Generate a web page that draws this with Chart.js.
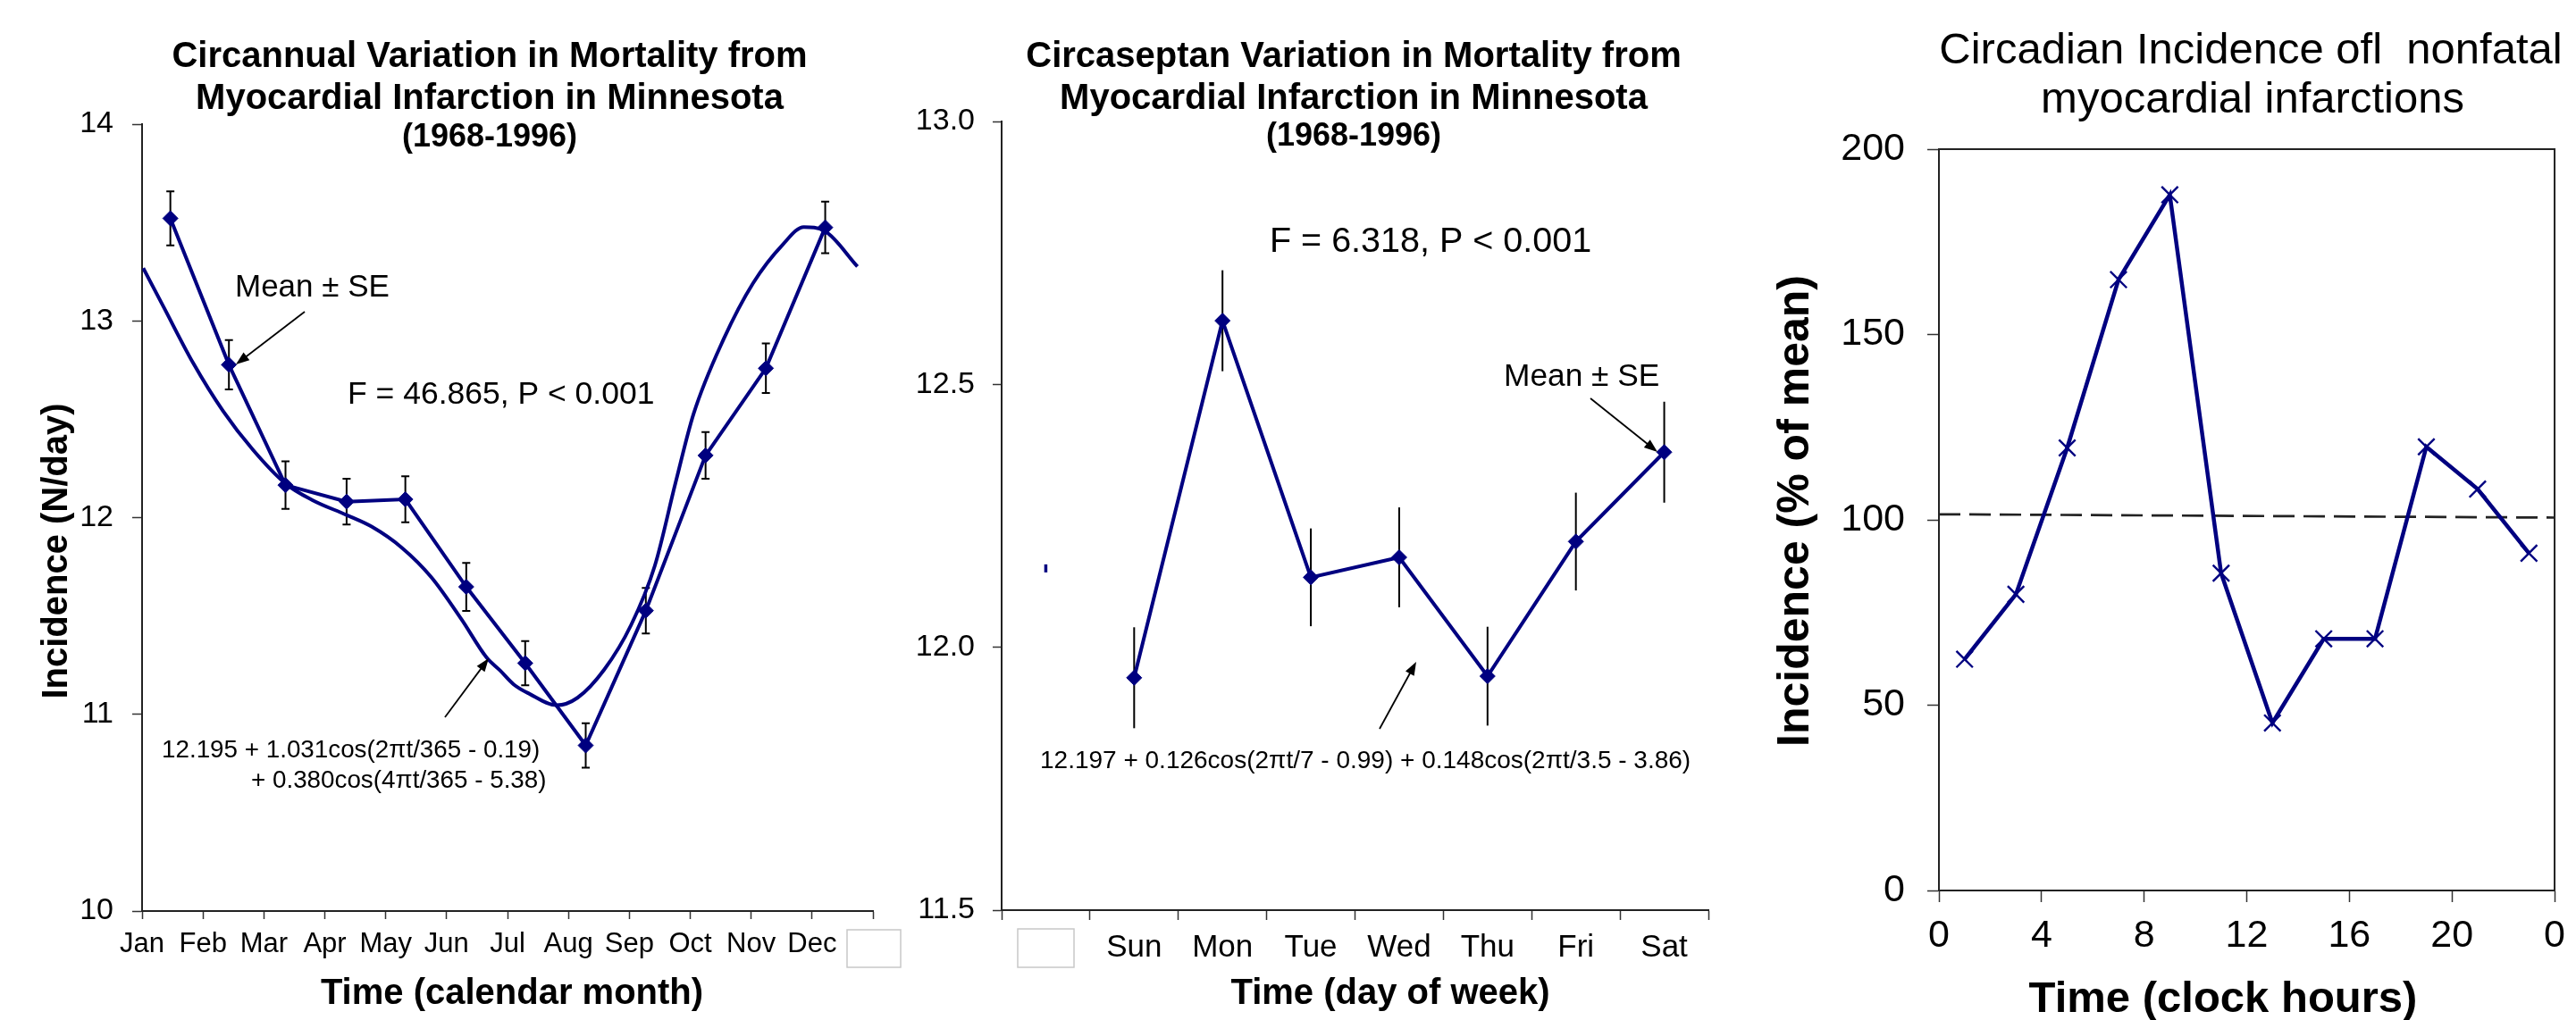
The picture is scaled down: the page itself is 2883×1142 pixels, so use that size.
<!DOCTYPE html>
<html><head><meta charset="utf-8">
<script src="https://cdn.jsdelivr.net/npm/chart.js@4.4.1/dist/chart.umd.min.js"></script>
<style>
html,body{margin:0;padding:0;background:#fff;}
#wrap{position:relative;width:2883px;height:1142px;overflow:hidden;background:#fff;}
.layer{position:absolute;left:0;top:0;width:2883px;height:1142px;}
</style></head><body>
<div id="wrap">
<div class="layer"><canvas id="c1"></canvas></div>
<div class="layer"><canvas id="c2"></canvas></div>
<div class="layer"><canvas id="c3"></canvas></div>
</div>
<script>
// ---------- DATA ----------
// Panel 1: circannual
const monthLabels = ['Jan','Feb','Mar','Apr','May','Jun','Jul','Aug','Sep','Oct','Nov','Dec'];
const monthDays  = [14.4, 44.2, 73.0, 104.1, 134.0, 165.0, 195.0, 225.8, 256.4, 286.8, 317.5, 347.7];
const monthMeans = [13.521, 12.777, 12.165, 12.081, 12.093, 11.648, 11.260, 10.842, 11.527, 12.316, 12.759, 13.475];
const monthSE    = [0.137, 0.125, 0.121, 0.116, 0.117, 0.122, 0.112, 0.113, 0.116, 0.119, 0.126, 0.131];
const fitDays = [0.6, 10.9, 26.1, 41.2, 56.3, 73.1, 86.7, 104.1, 117.0, 132.2, 147.3, 162.5, 175.4, 182.2, 189.4, 197.2, 211.0, 221.6, 235.2, 248.9, 261.0, 271.6, 280.7, 295.9, 311.0, 326.2, 336.8, 347.4, 364.1];
const fitVals = [13.268, 13.072, 12.784, 12.542, 12.346, 12.172, 12.089, 12.013, 11.953, 11.847, 11.696, 11.484, 11.288, 11.223, 11.150, 11.104, 11.046, 11.084, 11.227, 11.454, 11.756, 12.180, 12.527, 12.905, 13.192, 13.389, 13.477, 13.457, 13.276];

// Panel 2: circaseptan
const dayLabels = ['', 'Sun','Mon','Tue','Wed','Thu','Fri','Sat'];
const dayMeans  = [11.942, 12.621, 12.133, 12.171, 11.945, 12.201, 12.371];
const daySE     = [0.096, 0.096, 0.093, 0.095, 0.094, 0.093, 0.096];
const strayMark = [12.15];

// Panel 3: circadian
const hours    = [1, 3, 5, 7, 9, 11, 13, 15, 17, 19, 21, 23];
const hourVals = [62.4, 79.9, 119.4, 164.8, 187.7, 85.6, 45.2, 67.9, 67.9, 119.7, 108.3, 91.0];
const hourTickLabels = ['0','4','8','12','16','20','0'];
const meanLineHours = [0, 24];
const meanLineVals  = [101.5, 100.6];

// ---------- STYLE / LAYOUT ----------
const SANS = '"Liberation Sans", Arial, Helvetica, sans-serif';
const NAVY = '#000080';
const W = 2883, H = 1142;

function txt(ctx, s, x, y, size, weight, align) {
  ctx.save();
  ctx.font = (weight || 'normal') + ' ' + size + 'px ' + SANS;
  ctx.fillStyle = '#000';
  ctx.textAlign = align || 'left';
  ctx.textBaseline = 'alphabetic';
  ctx.fillText(s, x, y);
  ctx.restore();
}
function vtxt(ctx, s, x, y, size, weight) {
  ctx.save();
  ctx.translate(x, y);
  ctx.rotate(-Math.PI / 2);
  ctx.font = (weight || 'normal') + ' ' + size + 'px ' + SANS;
  ctx.fillStyle = '#000';
  ctx.textAlign = 'center';
  ctx.textBaseline = 'alphabetic';
  ctx.fillText(s, 0, 0);
  ctx.restore();
}
function arrow(ctx, x1, y1, x2, y2) {
  const a = Math.atan2(y2 - y1, x2 - x1), L = 15, Wd = 5.5;
  ctx.save();
  ctx.strokeStyle = '#000'; ctx.fillStyle = '#000'; ctx.lineWidth = 1.8;
  ctx.beginPath(); ctx.moveTo(x1, y1);
  ctx.lineTo(x2 - L * 0.8 * Math.cos(a), y2 - L * 0.8 * Math.sin(a)); ctx.stroke();
  ctx.beginPath(); ctx.moveTo(x2, y2);
  ctx.lineTo(x2 - L * Math.cos(a) + Wd * Math.sin(a), y2 - L * Math.sin(a) - Wd * Math.cos(a));
  ctx.lineTo(x2 - L * Math.cos(a) - Wd * Math.sin(a), y2 - L * Math.sin(a) + Wd * Math.cos(a));
  ctx.closePath(); ctx.fill();
  ctx.restore();
}
function box(ctx, x, y, w, h) {
  ctx.save(); ctx.strokeStyle = '#c8c8c8'; ctx.lineWidth = 1.5;
  ctx.strokeRect(x, y, w, h); ctx.restore();
}
function errorBars(chart, dsIndex, means, se, cap, offsetIdx) {
  const ctx = chart.ctx, ys = chart.scales.y, meta = chart.getDatasetMeta(dsIndex);
  ctx.save(); ctx.strokeStyle = '#000'; ctx.lineWidth = 2;
  means.forEach((m, i) => {
    const el = meta.data[i + offsetIdx];
    if (!el) return;
    const x = el.x, y1 = ys.getPixelForValue(m + se[i]), y2 = ys.getPixelForValue(m - se[i]);
    ctx.beginPath(); ctx.moveTo(x, y1); ctx.lineTo(x, y2);
    if (cap) { ctx.moveTo(x - cap, y1); ctx.lineTo(x + cap, y1); ctx.moveTo(x - cap, y2); ctx.lineTo(x + cap, y2); }
    ctx.stroke();
  });
  ctx.restore();
}

const base = {
  animation: false, responsive: true, maintainAspectRatio: false, events: [],
  plugins: { legend: { display: false }, tooltip: { enabled: false }, title: { display: false } }
};
function axisCommon(size, tickLen, pad) {
  return {
    ticks: { color: '#000', font: { family: SANS, size: size }, padding: pad, autoSkip: false, maxRotation: 0 },
    grid: { drawOnChartArea: false, drawTicks: true, tickLength: tickLen, tickColor: '#333', tickWidth: 1.5 },
    border: { display: true, color: '#222', width: 2 }
  };
}

// ---------- PANEL 1 ----------
const x1 = axisCommon(31, 9, 10);
Object.assign(x1, { type: 'linear', min: 0, max: 372, afterFit: s => { s.height = 100; } });
x1.ticks.stepSize = 31;
x1.ticks.callback = v => monthLabels[Math.round(v / 31)] || '';
const y1 = axisCommon(34, 11, 21);
Object.assign(y1, { min: 10, max: 14, afterFit: s => { s.width = 159; } });
y1.ticks.stepSize = 1;

new Chart(document.getElementById('c1'), {
  type: 'line',
  data: { datasets: [
    { data: monthDays.map((d, i) => ({ x: d, y: monthMeans[i] })), borderColor: NAVY, backgroundColor: NAVY,
      borderWidth: 4, pointStyle: 'rectRot', pointRadius: 8.5, pointBorderWidth: 1, tension: 0 },
    { data: fitDays.map((d, i) => ({ x: d, y: fitVals[i] })), borderColor: NAVY, borderWidth: 4,
      pointRadius: 0, cubicInterpolationMode: 'monotone' }
  ]},
  options: Object.assign({}, base, {
    layout: { padding: { left: 0, right: W - 977, top: 139, bottom: H - 1020 - 100 } },
    scales: { x: x1, y: y1 }
  }),
  plugins: [{
    id: 'p1',
    beforeDatasetsDraw(chart) { errorBars(chart, 0, monthMeans, monthSE, 4.5, 0); },
    afterDraw(chart) {
      const c = chart.ctx;
      txt(c, 'Circannual Variation in Mortality from', 548, 75, 40, 'bold', 'center');
      txt(c, 'Myocardial Infarction in Minnesota', 548, 122, 40, 'bold', 'center');
      txt(c, '(1968-1996)', 548, 164, 36, 'bold', 'center');
      txt(c, 'Mean \u00B1 SE', 263, 332, 35);
      arrow(c, 341, 349, 264, 408);
      txt(c, 'F = 46.865, P < 0.001', 389, 452, 35.5);
      txt(c, '12.195 + 1.031cos(2\u03C0t/365 - 0.19)', 181, 848, 27.8);
      txt(c, '+ 0.380cos(4\u03C0t/365 - 5.38)', 281, 882, 27.8);
      arrow(c, 498, 803, 547, 737);
      txt(c, 'Time (calendar month)', 573, 1124, 40, 'bold', 'center');
      vtxt(c, 'Incidence (N/day)', 75, 617, 40, 'bold');
      box(c, 948, 1041, 60, 42);
    }
  }]
});

// ---------- PANEL 2 ----------
const x2 = axisCommon(35, 11, 10);
Object.assign(x2, { type: 'category', labels: dayLabels, offset: true, afterFit: s => { s.height = 100; } });
x2.grid.offset = true;
const y2 = axisCommon(34, 10, 20);
Object.assign(y2, { min: 11.5, max: 13.0, afterFit: s => { s.width = 150; } });
y2.ticks.stepSize = 0.5;
y2.ticks.callback = v => Number(v).toFixed(1);

new Chart(document.getElementById('c2'), {
  type: 'line',
  data: { labels: dayLabels, datasets: [
    { data: [null].concat(dayMeans), borderColor: NAVY, backgroundColor: NAVY, borderWidth: 4,
      pointStyle: 'rectRot', pointRadius: 8.5, pointBorderWidth: 1, tension: 0 },
    { data: strayMark.concat(dayMeans.map(() => null)), showLine: false, borderColor: NAVY, backgroundColor: NAVY,
      pointStyle: 'line', rotation: 90, pointRadius: 4.5, pointBorderWidth: 3.5 }
  ]},
  options: Object.assign({}, base, {
    layout: { padding: { left: 1121 - 150, right: W - 1912, top: 136, bottom: H - 1019 - 100 } },
    scales: { x: x2, y: y2 }
  }),
  plugins: [{
    id: 'p2',
    beforeDatasetsDraw(chart) { errorBars(chart, 0, dayMeans, daySE, 0, 1); },
    afterDraw(chart) {
      const c = chart.ctx;
      txt(c, 'Circaseptan Variation in Mortality from', 1515, 75, 40, 'bold', 'center');
      txt(c, 'Myocardial Infarction in Minnesota', 1515, 122, 40, 'bold', 'center');
      txt(c, '(1968-1996)', 1515, 163, 36, 'bold', 'center');
      txt(c, 'F = 6.318, P < 0.001', 1421, 282, 39.5);
      txt(c, 'Mean \u00B1 SE', 1683, 432, 35.3);
      arrow(c, 1780, 446, 1855, 506);
      txt(c, '12.197 + 0.126cos(2\u03C0t/7 - 0.99) + 0.148cos(2\u03C0t/3.5 - 3.86)', 1164, 860, 28);
      arrow(c, 1544, 816, 1585, 741);
      txt(c, 'Time (day of week)', 1556, 1124, 40, 'bold', 'center');
      box(c, 1139, 1040, 63, 43);
    }
  }]
});

// ---------- PANEL 3 ----------
const x3 = axisCommon(43, 13, 12);
Object.assign(x3, { type: 'linear', min: 0, max: 24, afterFit: s => { s.height = 120; } });
x3.ticks.stepSize = 4;
x3.ticks.callback = v => hourTickLabels[Math.round(v / 4)];
const y3 = axisCommon(43, 13, 25);
Object.assign(y3, { min: 0, max: 200, afterFit: s => { s.width = 170; } });
y3.ticks.stepSize = 50;

new Chart(document.getElementById('c3'), {
  type: 'line',
  data: { datasets: [
    { data: hours.map((h, i) => ({ x: h, y: hourVals[i] })), borderColor: NAVY, backgroundColor: NAVY,
      borderWidth: 4.5, pointStyle: 'crossRot', pointRadius: 13, pointBorderWidth: 2.4, tension: 0 },
    { data: meanLineHours.map((h, i) => ({ x: h, y: meanLineVals[i] })), borderColor: '#222',
      borderWidth: 2.7, borderDash: [24, 10], pointRadius: 0 }
  ]},
  options: Object.assign({}, base, {
    layout: { padding: { left: 2000, right: W - 2865, top: 167, bottom: H - 997 - 120 } },
    scales: { x: x3, y: y3 }
  }),
  plugins: [{
    id: 'p3',
    afterDatasetsDraw(chart) {
      const c = chart.ctx, a = chart.chartArea;
      c.save(); c.strokeStyle = '#222'; c.lineWidth = 2;
      c.beginPath(); c.moveTo(a.left, a.top); c.lineTo(a.right, a.top); c.lineTo(a.right, a.bottom); c.stroke();
      c.restore();
    },
    afterDraw(chart) {
      const c = chart.ctx;
      txt(c, 'Circadian Incidence ofl  nonfatal', 2519, 71, 49, 'normal', 'center');
      txt(c, 'myocardial infarctions', 2521, 126, 49, 'normal', 'center');
      txt(c, 'Time (clock hours)', 2488, 1133, 49, 'bold', 'center');
      vtxt(c, 'Incidence (% of mean)', 2024, 572, 50, 'bold');
    }
  }]
});
</script>
</body></html>
